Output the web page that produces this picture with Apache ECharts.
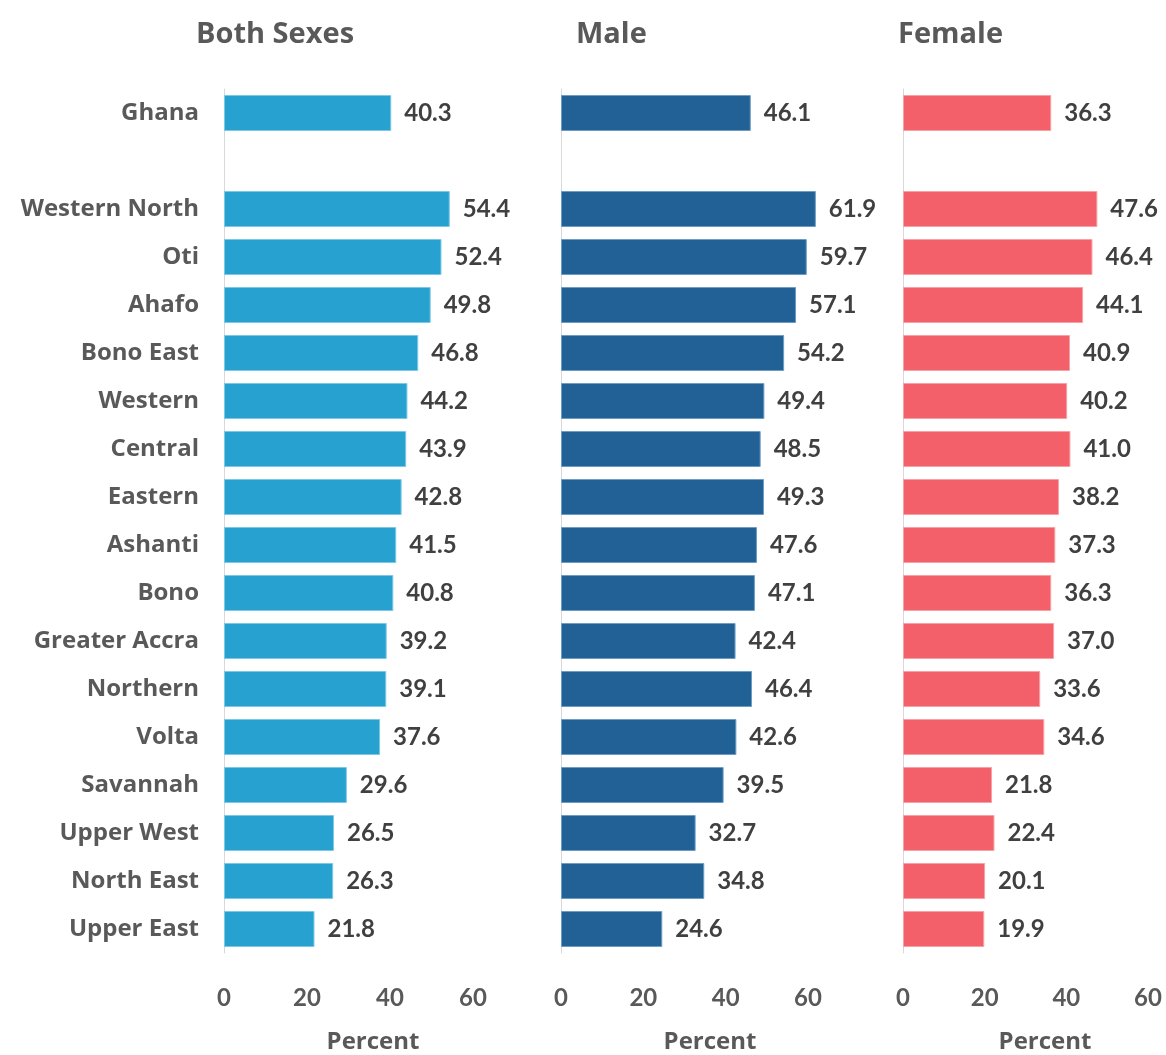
<!DOCTYPE html>
<html>
<head>
<meta charset="utf-8">
<script src="https://cdn.jsdelivr.net/npm/echarts@6/dist/echarts.min.js"></script>
<style>
  html, body { margin: 0; padding: 0; background: #fff; }
  #main { width: 1166px; height: 1055px; }
</style>
</head>
<body>
<div id="main"></div>
<script>
// regions, Ghana first, then an empty row as spacer
var regions = ['Ghana', '', 'Western North', 'Oti', 'Ahafo', 'Bono East', 'Western', 'Central',
  'Eastern', 'Ashanti', 'Bono', 'Greater Accra', 'Northern', 'Volta', 'Savannah',
  'Upper West', 'North East', 'Upper East'];
var bothSexes = [40.3, null, 54.4, 52.4, 49.8, 46.8, 44.2, 43.9, 42.8, 41.5, 40.8, 39.2, 39.1, 37.6, 29.6, 26.5, 26.3, 21.8];
var male = [46.1, null, 61.9, 59.7, 57.1, 54.2, 49.4, 48.5, 49.3, 47.6, 47.1, 42.4, 46.4, 42.6, 39.5, 32.7, 34.8, 24.6];
var female = [36.3, null, 47.6, 46.4, 44.1, 40.9, 40.2, 41.0, 38.2, 37.3, 36.3, 37.0, 33.6, 34.6, 21.8, 22.4, 20.1, 19.9];
var panelNames = ['Both Sexes', 'Male', 'Female'];

var font = 'Open Sans';
var numFont = 'Lato';
var grey = '#595959';
var colors = ['#27a1cf', '#216195', '#f4606a'];
var borders = ['#7cc8e6', '#6d9cc4', '#f8a0a6'];
var grids = [
  { left: 224, width: 249 },
  { left: 561, width: 247 },
  { left: 903, width: 245 }
];
var allData = [bothSexes, male, female];

var chart = echarts.init(document.getElementById('main'));

var gridArr = [], xAxes = [], yAxes = [], series = [], titles = [];
for (var i = 0; i < 3; i++) {
  gridArr.push({ left: grids[i].left, width: grids[i].width, top: 89, height: 864 });
  xAxes.push({
    type: 'value', gridIndex: i, min: 0, max: 60, interval: 20,
    axisLine: { show: false }, axisTick: { show: false }, splitLine: { show: false },
    axisLabel: { color: grey, fontFamily: numFont, fontWeight: 'bold', fontSize: 24, margin: 33 }
  });
  yAxes.push({
    type: 'category', gridIndex: i, data: regions, inverse: true,
    axisLine: { show: true, lineStyle: { color: '#d9d9d9', width: 1 } },
    axisTick: { show: false },
    axisLabel: { show: i === 0, color: grey, fontFamily: font, fontWeight: 'bold', fontSize: 24, margin: 25 }
  });
  series.push({
    type: 'bar', xAxisIndex: i, yAxisIndex: i, data: allData[i],
    barCategoryGap: '25%', clip: false,
    itemStyle: { color: colors[i], borderColor: borders[i], borderWidth: 1 },
    label: {
      show: true, position: 'right', distance: 13,
      color: '#404040', fontFamily: numFont, fontWeight: 'bold', fontSize: 24,
      formatter: function (p) { return p.value == null ? '' : p.value.toFixed(1); }
    }
  });
  titles.push({
    text: panelNames[i], left: [191, 571, 893][i], top: 15,
    textStyle: { color: grey, fontFamily: font, fontWeight: 'bold', fontSize: 29 }
  });
  titles.push({
    text: 'Percent', left: [368, 705, 1040][i], top: 1025, textAlign: 'center',
    textStyle: { color: grey, fontFamily: font, fontWeight: 'bold', fontSize: 24 }
  });
}

chart.setOption({
  animation: false,
  title: titles,
  grid: gridArr,
  xAxis: xAxes,
  yAxis: yAxes,
  series: series
});
</script>
</body>
</html>
